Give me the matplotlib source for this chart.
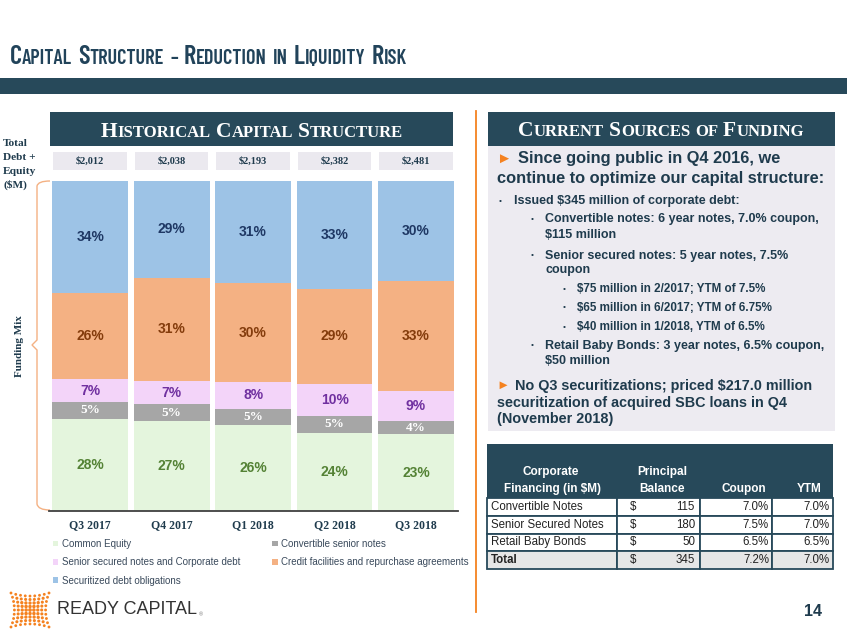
import matplotlib
matplotlib.use('Agg')
import matplotlib.pyplot as plt
from matplotlib.patches import Rectangle, PathPatch
from matplotlib.path import Path
import numpy as np

# ── data ─────────────────────────────────────────────────────────────────────
quarters = ['Q3 2017', 'Q4 2017', 'Q1 2018', 'Q2 2018', 'Q3 2018']
totals = ['$2,012', '$2,038', '$2,193', '$2,382', '$2,481']
common_equity = [28, 27, 26, 24, 23]
convertible = [5, 5, 5, 5, 4]
senior_secured = [7, 7, 8, 10, 9]
credit_facilities = [26, 31, 30, 29, 33]
securitized = [34, 29, 31, 33, 30]
series_names = ['Common Equity', 'Convertible senior notes',
                'Senior secured notes and Corporate debt',
                'Credit facilities and repurchase agreements',
                'Securitized debt obligations']

fin_names = ['Convertible Notes', 'Senior Secured Notes', 'Retail Baby Bonds', 'Total']
fin_principal = [115, 180, 50, 345]
fin_coupon = ['7.0%', '7.5%', '6.5%', '7.2%']
fin_ytm = ['7.0%', '7.0%', '6.5%', '7.0%']

# ── style ────────────────────────────────────────────────────────────────────
SANS = ['Liberation Sans', 'DejaVu Sans']
SERIF = ['Liberation Serif', 'DejaVu Serif']
NARROW = ['Barlow Condensed', 'Archivo Narrow', 'Liberation Sans', 'DejaVu Sans']
NAVY = '#27495a'
TXT = '#1f3b4d'
ORANGE = '#f58220'
seg_colors = ['#e4f5dd', '#a6a6a6', '#f3d4f9', '#f4b183', '#9dc3e6']
lab_colors = ['#548235', 'white', '#7030a0', '#843c0c', '#1f3864']

fig = plt.figure(figsize=(8.47, 6.35), dpi=100, facecolor='white')
ax0 = fig.add_axes([0, 0, 1, 1])
ax0.set_xlim(0, 847)
ax0.set_ylim(635, 0)
ax0.axis('off')
rend = fig.canvas.get_renderer()


def small_caps(x, y, text, big, small, color, family, ha='left', weight='bold'):
    """fake small caps: uppercase letters big, lowercase drawn as small capitals"""
    arts = []
    cur = x
    small_px = small * 100 / 72
    for w, word in enumerate(text.split(' ')):
        runs = []
        for ch in word:
            sz = small if ch.islower() or not ch.isalpha() else big
            if runs and runs[-1][1] == sz:
                runs[-1][0] += ch.upper()
            else:
                runs.append([ch.upper(), sz])
        for s, sz in runs:
            t = ax0.text(cur, y, s, fontsize=sz, color=color, family=family,
                         fontweight=weight, va='baseline', ha='left')
            cur += t.get_window_extent(rend).width
            arts.append(t)
        cur += 0.3 * small_px
    cur -= 0.3 * small_px
    if ha == 'center':
        shift = (cur - x) / 2
        for t in arts:
            t.set_x(t.get_position()[0] - shift)


# ── slide frame ──────────────────────────────────────────────────────────────
small_caps(10, 64, 'Capital Structure – Reduction in Liquidity Risk', 19, 14.6,
           '#21435a', NARROW, weight=600)
ax0.add_patch(Rectangle((0, 78), 847, 16, color=NAVY, lw=0))
ax0.plot([476, 476], [111, 612], color=ORANGE, lw=1.3)

# left header
ax0.add_patch(Rectangle((50, 112), 403, 34, color=NAVY, lw=0))
small_caps(252, 137, 'Historical Capital Structure', 15.5, 12, 'white', SERIF, ha='center')

# right header + panel
ax0.add_patch(Rectangle((488, 112), 347, 34, color=NAVY, lw=0))
small_caps(661, 136, 'Current Sources of Funding', 15.5, 12, 'white', SERIF, ha='center')
ax0.add_patch(Rectangle((488, 146), 347, 285, color='#edebf1', lw=0))

# left side labels
for i, line in enumerate(['Total', 'Debt +', 'Equity', '($M)']):
    ax0.text(3, 143 + i * 14, line, fontsize=8.2, family=SERIF, fontweight='bold',
             color=TXT, va='center', ha='left')
ax0.text(19, 346, 'Funding Mix', rotation=90, fontsize=8, family=SERIF,
         fontweight='bold', color=TXT, va='center', ha='center')
brace = Path([(50, 181), (38, 181), (37, 186), (37, 192), (37, 340), (32, 345),
              (37, 350), (37, 504), (38, 510), (50, 510)],
             [Path.MOVETO, Path.CURVE3, Path.CURVE3, Path.LINETO, Path.LINETO,
              Path.LINETO, Path.LINETO, Path.LINETO, Path.CURVE3, Path.CURVE3])
ax0.add_patch(PathPatch(brace, fc='none', ec='#f4b183', lw=1.0))

# ── stacked bars ─────────────────────────────────────────────────────────────
ax = fig.add_axes([49 / 847, 1 - 511 / 635, 409 / 847, 330 / 635])
ax.patch.set_alpha(0)
vals = np.array([common_equity, convertible, senior_secured,
                 credit_facilities, securitized], dtype=float)
shares = vals / vals.sum(axis=0) * 100
x = np.arange(len(quarters))
bottom = np.zeros(len(quarters))
handles = []
for k in range(len(vals)):
    b = ax.bar(x, shares[k], bottom=bottom, width=0.93, color=seg_colors[k],
               label=series_names[k], lw=0)
    handles.append(b)
    for i in range(len(x)):
        if k == 1:
            ax.text(x[i], bottom[i] + shares[k][i] / 2, f'{vals[k][i]:.0f}%',
                    ha='center', va='center', fontsize=9.5, family=SERIF,
                    fontweight='bold', color=lab_colors[k])
        else:
            ax.text(x[i], bottom[i] + shares[k][i] / 2, f'{vals[k][i]:.0f}%',
                    ha='center', va='center', fontsize=10, family=SANS,
                    fontweight='bold', color=lab_colors[k])
    bottom += shares[k]

# totals boxes above bars
for i in range(len(x)):
    ax.add_patch(Rectangle((x[i] - 0.45, 103.3), 0.9, 5.5, color='#ebe9ef',
                           lw=0, clip_on=False))
    ax.text(x[i], 106.1, totals[i], ha='center', va='center', fontsize=7.5,
            family=SERIF, fontweight='bold', color=TXT, clip_on=False)

ax.set_xlim(-0.505, 4.515)
ax.set_ylim(0, 100)
ax.set_xticks(x)
ax.set_xticklabels(quarters, family=SERIF, fontweight='bold', fontsize=8.5, color=TXT)
ax.tick_params(axis='x', length=0, pad=6)
ax.set_yticks([])
for s in ['top', 'left', 'right']:
    ax.spines[s].set_visible(False)
ax.spines['bottom'].set_color('#404040')
ax.spines['bottom'].set_linewidth(1.3)

order = [0, 2, 4, 1, 3]
leg = fig.legend([handles[i] for i in order], [series_names[i] for i in order],
                 loc='upper left', bbox_to_anchor=(53 / 847, 1 - 539 / 635),
                 ncol=2, frameon=False, handlelength=0.55,
                 handleheight=0.55, handletextpad=0.35, columnspacing=3.3,
                 labelspacing=0.85, borderpad=0, borderaxespad=0,
                 prop={'family': SANS, 'size': 7})
for t in leg.get_texts():
    t.set_color('#3a4a5c')

# ── right panel text ─────────────────────────────────────────────────────────
def tri(xp, yp, fs):
    ax0.text(xp, yp, '►', fontsize=fs, color=ORANGE, family=SANS,
             va='center', ha='left')


def line(xp, yp, s, fs):
    ax0.text(xp, yp, s, fontsize=fs, color=TXT, family=SANS, fontweight='bold',
             va='center', ha='left')


def bullet(xp, yp):
    ax0.text(xp, yp, '•', fontsize=6, color=TXT, family=SANS, va='center', ha='left')


tri(496, 159, 11)
line(518, 159, 'Since going public in Q4 2016, we', 11.8)
line(497, 179, 'continue to optimize our capital structure:', 11.8)
bullet(499, 201)
line(514, 201, 'Issued $345 million of corporate debt:', 9)
bullet(531, 219)
line(545, 219, 'Convertible notes: 6 year notes, 7.0% coupon,', 9)
line(545, 235, '$115 million', 9)
bullet(531, 256)
line(545, 256, 'Senior secured notes: 5 year notes, 7.5%', 9)
line(545, 270, 'coupon', 9)
sub_lines = ['$75 million in 2/2017; YTM of 7.5%',
             '$65 million in 6/2017; YTM of 6.75%',
             '$40 million in 1/2018, YTM of 6.5%']
for j, s in enumerate(sub_lines):
    bullet(563, 289 + j * 19)
    line(577, 289 + j * 19, s, 8.4)
bullet(531, 346)
line(545, 346, 'Retail Baby Bonds: 3 year notes, 6.5% coupon,', 9)
line(545, 361, '$50 million', 9)
tri(496, 386, 9.5)
line(515, 386, 'No Q3 securitizations; priced $217.0 million', 10.4)
line(497, 403, 'securitization of acquired SBC loans in Q4', 10.4)
line(497, 419, '(November 2018)', 10.4)

# ── financing table ──────────────────────────────────────────────────────────
col_x = [487, 617, 700, 772, 833]
row_y = [498, 516, 533.5, 551, 568.5]
ax0.add_patch(Rectangle((487, 444), 346, 54, color=NAVY, lw=0))
hdr = dict(fontsize=8.5, color='white', family=SANS, fontweight='bold',
           ha='center', va='center')
ax0.text(551, 472, 'Corporate', **hdr)
ax0.text(552, 489, 'Financing (in $M)', **hdr)
ax0.text(662, 472, 'Principal', **hdr)
ax0.text(662, 489, 'Balance', **hdr)
ax0.text(744, 489, 'Coupon', **hdr)
ax0.text(809, 489, 'YTM', **hdr)
for r in range(len(fin_names)):
    y0, y1 = row_y[r], row_y[r + 1]
    yc = (y0 + y1) / 2
    fc = '#e6e6e6' if r == len(fin_names) - 1 else 'white'
    for c in range(4):
        ax0.add_patch(Rectangle((col_x[c], y0), col_x[c + 1] - col_x[c], y1 - y0,
                                fc=fc, ec=NAVY, lw=1.3))
    cell = dict(fontsize=8.3, color='#222222', family=SANS, va='center')
    ax0.text(491, yc, fin_names[r], ha='left',
             fontweight='bold' if r == len(fin_names) - 1 else 'normal', **cell)
    ax0.text(630, yc, '$', ha='left', **cell)
    ax0.text(695, yc, f'{fin_principal[r]}', ha='right', **cell)
    ax0.text(769, yc, fin_coupon[r], ha='right', **cell)
    ax0.text(830, yc, fin_ytm[r], ha='right', **cell)

# page number + logo
ax0.text(822, 612, '14', fontsize=11.5, color=TXT, family=SANS, fontweight='bold',
         ha='right', va='center')
ax0.text(57, 610, 'READY CAPITAL', fontsize=13, color='#333333', family=SANS,
         ha='left', va='center')
ax0.text(199, 615, '®', fontsize=4, color='#777777', family=SANS, ha='left', va='center')
lx, ly = [], []
sz = []
for r in range(9):
    for c in range(9):
        u, v = (c - 4) / 4, (r - 4) / 4
        sx = 1 - 0.18 * (1 - v ** 2)
        sy = 1 - 0.18 * (1 - u ** 2)
        lx.append(30 + u * 19 * sx)
        ly.append(610 + v * 17 * sy)
        sz.append(6 * (1.2 - 0.5 * max(abs(u), abs(v))))
ax0.scatter(lx, ly, s=sz, color=ORANGE, lw=0)

fig.savefig('out.png', dpi=100, facecolor='white')
